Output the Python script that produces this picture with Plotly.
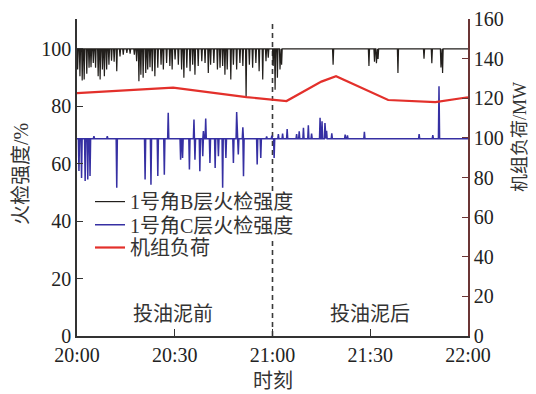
import pandas as pd
import plotly.graph_objects as go

# ---------------- data (minutes after 20:00) ----------------
B_BASE = 100.0
B_T = [0.2, 0.9, 1.6, 2.2, 3.0, 3.7, 4.3, 5.0, 5.7, 6.5, 7.1, 7.8, 8.4, 9.1, 9.8, 10.6, 11.4, 12.2,
       13.2, 14.2, 15.3, 16.3, 17.6, 18.3, 19.0, 19.6, 20.3, 21.1, 21.7, 22.4, 23.1, 23.9, 24.8,
       25.8, 26.5, 27.5, 28.5, 29.2, 30.1, 31.1, 32.1, 32.8, 33.7, 34.7, 35.5, 36.2, 37.2, 38.3,
       39.3, 40.3, 41.0, 42.0, 43.1, 43.9, 44.7, 45.4, 46.1, 47.2, 48.0, 49.0, 50.0, 50.9, 51.9,
       52.9, 53.9, 54.9, 55.9, 57.0, 58.0, 58.7,
       60.2, 60.8, 61.5, 62.3, 62.8, 78.6, 89.6, 91.3, 91.9, 92.4, 98.5, 106.5, 108.9, 111.7, 112.2]
B_V = [92.8, 90.5, 89.0, 89.3, 91.3, 93.4, 93.6, 95.1, 93.4, 90.5, 89.3, 92.8, 90.5, 92.8, 94.5, 95.9, 95.5, 92.2,
       97.4, 98.0, 98.6, 98.3, 98.0, 95.7, 88.7, 91.0, 89.9, 91.6, 92.8, 93.6, 92.2, 90.5, 93.4,
       94.5, 92.8, 95.1, 94.0, 92.8, 96.3, 94.5, 92.8, 89.9, 93.4, 92.2, 94.5, 91.0, 94.0, 95.7,
       95.1, 91.6, 94.5, 95.1, 92.8, 93.4, 94.0, 91.0, 92.8, 89.3, 94.5, 92.8, 95.1, 94.0, 82.9,
       94.5, 93.4, 95.1, 92.2, 89.3, 95.7, 96.9,
       94.0, 85.8, 89.9, 92.8, 94.5, 94.5, 94.0, 95.5, 95.0, 96.5, 91.6, 96.6, 95.0, 93.5, 91.6]

C_BASE = 68.7
C_T = [0.6, 1.4, 2.5, 3.3, 4.0, 5.2, 9.3, 12.2, 20.9, 22.7, 24.8, 26.8, 28.0, 31.8, 32.4, 34.5,
       35.9, 36.2, 37.7, 38.6, 38.8, 39.5, 40.8, 42.4, 43.4, 44.7, 45.7, 48.0, 49.0, 49.5, 50.9,
       51.1, 55.3, 56.4, 58.2, 59.8, 60.5, 61.8, 63.1, 64.5, 67.4, 68.2, 69.5, 71.0, 72.0, 74.6,
       75.2, 76.1, 76.6, 78.2, 82.3, 83.0, 88.2, 105.0, 109.2, 111.1]
C_V = [57.5, 55.0, 54.0, 54.5, 55.7, 69.6, 69.6, 51.6, 54.5, 52.7, 55.7, 56.2, 77.7, 61.4, 62.0, 58.0,
       75.4, 61.4, 57.4, 62.6, 71.4, 75.7, 60.3, 58.5, 62.6, 51.6, 62.0, 60.3, 78.0, 63.2, 72.7,
       55.6, 59.7, 62.0, 69.5, 69.8, 62.0, 70.3, 70.5, 72.1, 70.3, 71.3, 72.5, 73.4, 70.5, 76.0,
       74.8, 74.2, 71.5, 70.6, 70.1, 69.9, 71.1, 70.3, 70.0, 87.0]

LOAD_T = [0, 29.5, 52, 60, 64.3, 75, 79.5, 95.5, 110, 120]
LOAD_V = [122.6, 125.4, 120.6, 119.1, 118.6, 128.4, 131.1, 119.1, 118.0, 120.5]

X_TICK_MIN = [0, 30, 60, 90, 120]
X_TICK_LABELS = ["20:00", "20:30", "21:00", "21:30", "22:00"]
Y1_TICKS = [0, 20, 40, 60, 80, 100]
Y2_TICKS = [0, 20, 40, 60, 80, 100, 120, 140, 160]

NAMES = ["1号角B层火检强度", "1号角C层火检强度", "机组负荷"]
REGION_LABELS = ["投油泥前", "投油泥后"]
X_TITLE = "时刻"
Y1_TITLE = "火检强度/%"
Y2_TITLE = "机组负荷/MW"

T0 = pd.Timestamp("2020-01-01 20:00:00")


def tm(m):
    return T0 + pd.to_timedelta(m, unit="m")


def spike_series(base, ts, vs, hw=0.18):
    xs, ys = [0.0], [base]
    for t, v in sorted(zip(ts, vs)):
        xs += [t - hw, t, t + hw]
        ys += [base, v, base]
    xs.append(120.0)
    ys.append(base)
    xs = [min(max(x, 0.0), 120.0) for x in xs]
    return [tm(x) for x in xs], ys


bx, by = spike_series(B_BASE, B_T, B_V)
cx, cy = spike_series(C_BASE, C_T, C_V)

# ---------------- layout geometry ----------------
OX, OY = 8, 10            # page offset of the plot div inside the browser window
W, H = 536 - OX, 394 - OY
L, R, T, B = 69, 68, 11, 56
pw, ph = W - L - R, H - T - B


def px(sx):
    return (sx - OX - L) / pw


def py(sy):
    return (H - B - (sy - OY)) / ph


FONT = "Liberation Serif, Noto Sans CJK SC, serif"

fig = go.Figure()
fig.add_trace(go.Scatter(x=bx, y=by, mode="lines", name=NAMES[0],
                         line=dict(color="#221f1c", width=1.2), legend="legend"))
fig.add_trace(go.Scatter(x=cx, y=cy, mode="lines", name=NAMES[1],
                         line=dict(color="#3630a3", width=1.5), legend="legend2"))
fig.add_trace(go.Scatter(x=[tm(t) for t in LOAD_T], y=LOAD_V, mode="lines", name=NAMES[2],
                         line=dict(color="#e3302b", width=2.2), yaxis="y2", legend="legend3"))

# dashed divider at 21:00 (interrupted behind the first two legend rows)
dash_line = dict(color="#3a3a3a", width=1.6, dash="5px,4px")
fig.add_shape(type="line", xref="x", yref="paper", x0=tm(60), x1=tm(60), y0=0, y1=py(239),
              line=dash_line, layer="below")
fig.add_shape(type="line", xref="x", yref="paper", x0=tm(60), x1=tm(60), y0=py(193), y1=py(24),
              line=dash_line, layer="below")

for txt, tmin in zip(REGION_LABELS, [29.5, 90]):
    fig.add_annotation(x=tm(tmin), y=py(316), xref="x", yref="paper", text=txt, showarrow=False,
                       xanchor="center", yanchor="middle",
                       font=dict(family=FONT, size=20, color="#333"))

fig.add_annotation(x=px(21), y=py(176), xref="paper", yref="paper", text=Y1_TITLE,
                   showarrow=False, textangle=-90, xanchor="center", yanchor="middle",
                   font=dict(family=FONT, size=20, color="#333"))
fig.add_annotation(x=px(273), y=py(383), xref="paper", yref="paper", text=X_TITLE,
                   showarrow=False, xanchor="center", yanchor="middle",
                   font=dict(family=FONT, size=20, color="#333"))
fig.add_annotation(x=px(520), y=py(139), xref="paper", yref="paper", text=Y2_TITLE,
                   showarrow=False, textangle=-90, xanchor="center", yanchor="middle",
                   font=dict(family=FONT, size=18, color="#333"))

leg_common = dict(xanchor="left", yanchor="middle", borderwidth=0, bgcolor="rgba(0,0,0,0)",
                  font=dict(family=FONT, size=20, color="#333"))

fig.update_layout(
    width=W, height=H,
    margin=dict(l=L, r=R, t=T, b=B, autoexpand=False),
    paper_bgcolor="white", plot_bgcolor="white",
    font=dict(family=FONT, size=20, color="#222"),
    xaxis=dict(type="date", range=[tm(0), tm(120)], tickvals=[tm(m) for m in X_TICK_MIN],
               ticktext=X_TICK_LABELS, ticks="inside", ticklen=7, tickcolor="#333",
               showline=True, linecolor="#333", linewidth=1.5, showgrid=False, zeroline=False,
               tickfont=dict(family=FONT, size=20, color="#222")),
    yaxis=dict(range=[0, 110.4], tickvals=Y1_TICKS, ticks="inside", ticklen=6, tickcolor="#333",
               showline=True, linecolor="#333", linewidth=1.5, showgrid=False, zeroline=False,
               tickfont=dict(family=FONT, size=20, color="#222")),
    yaxis2=dict(range=[0, 160], tickvals=Y2_TICKS, overlaying="y", side="right", ticks="inside",
                ticklen=6, tickcolor="#6b3535", showline=True, linecolor="#6b3535", linewidth=1.5,
                showgrid=False, zeroline=False, tickfont=dict(family=FONT, size=20, color="#222")),
    legend=dict(x=px(90), y=py(203.6), **leg_common),
    legend2=dict(x=px(90), y=py(226.7), **leg_common),
    legend3=dict(x=px(90), y=py(249.5), **leg_common),
    showlegend=True,
)

fig.write_html("out.html")
